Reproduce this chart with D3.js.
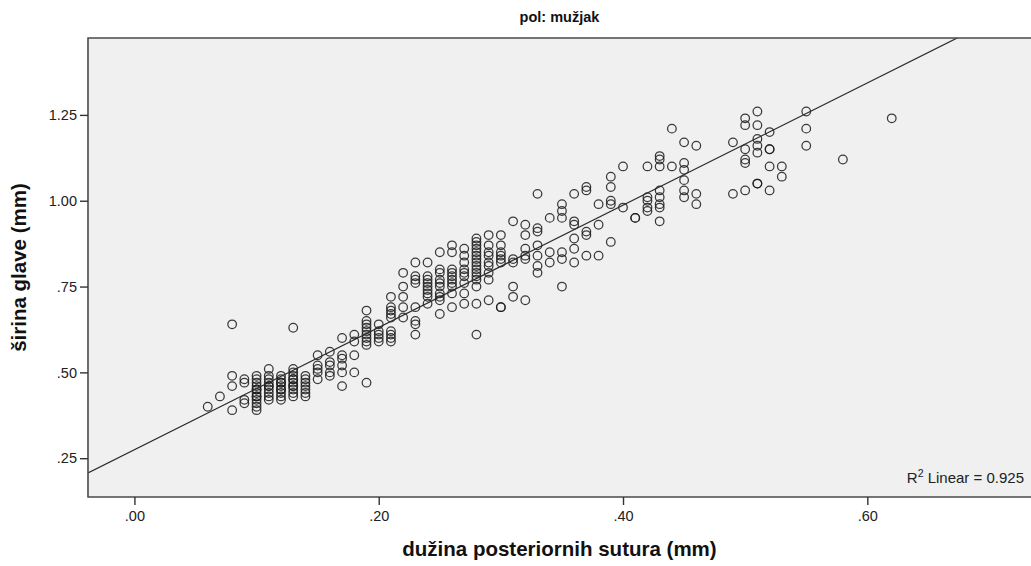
<!DOCTYPE html>
<html>
<head>
<meta charset="utf-8">
<script src="https://cdn.jsdelivr.net/npm/d3@7"></script>
<style>
  html, body { margin: 0; padding: 0; background: #ffffff; }
  svg { display: block; font-family: Arial, "Liberation Sans", sans-serif; }
</style>
</head>
<body>
<svg id="chart" width="1031" height="566"></svg>
<script>
// ---- data ----
const title = "pol: mužjak";
const xLabel = "dužina posteriornih sutura (mm)";
const yLabel = "širina glave (mm)";
const fitLabel = "Linear = 0.925";

const xTicks = [0.0, 0.2, 0.4, 0.6];
const yTicks = [0.25, 0.50, 0.75, 1.00, 1.25];

// x value of each column of points
const colX = [0.06, 0.07, 0.08, 0.09, 0.10, 0.11, 0.12, 0.13, 0.14, 0.15,
              0.16, 0.17, 0.18, 0.19, 0.20, 0.21, 0.22, 0.23, 0.24, 0.25,
              0.26, 0.27, 0.28, 0.29, 0.30, 0.31, 0.32, 0.33, 0.34, 0.35,
              0.36, 0.37, 0.38, 0.39, 0.40, 0.41, 0.42, 0.43, 0.44, 0.45,
              0.46, 0.49, 0.50, 0.51, 0.52, 0.53, 0.55, 0.58, 0.62];
// y values (širina glave) observed at each column
const colY = [
  [0.40],
  [0.43],
  [0.64, 0.49, 0.46, 0.39],
  [0.48, 0.47, 0.42, 0.41],
  [0.49, 0.48, 0.47, 0.46, 0.45, 0.44, 0.43, 0.42, 0.41, 0.40, 0.39, 0.45, 0.43],
  [0.51, 0.49, 0.48, 0.47, 0.46, 0.45, 0.44, 0.43, 0.42, 0.46],
  [0.49, 0.48, 0.47, 0.46, 0.45, 0.44, 0.43, 0.42, 0.47, 0.45],
  [0.63, 0.51, 0.50, 0.49, 0.48, 0.47, 0.46, 0.45, 0.44, 0.43, 0.48, 0.46],
  [0.49, 0.48, 0.47, 0.46, 0.45, 0.44, 0.43],
  [0.55, 0.52, 0.51, 0.50, 0.48],
  [0.56, 0.53, 0.52, 0.50, 0.49],
  [0.60, 0.55, 0.54, 0.52, 0.50, 0.46],
  [0.61, 0.59, 0.55, 0.50],
  [0.68, 0.65, 0.64, 0.63, 0.62, 0.61, 0.60, 0.59, 0.58, 0.47],
  [0.64, 0.62, 0.61, 0.60, 0.59],
  [0.72, 0.69, 0.68, 0.67, 0.66, 0.62, 0.61, 0.60, 0.59],
  [0.79, 0.75, 0.72, 0.69, 0.66],
  [0.82, 0.78, 0.77, 0.76, 0.69, 0.65, 0.64, 0.61],
  [0.82, 0.78, 0.77, 0.76, 0.75, 0.74, 0.73, 0.72, 0.70],
  [0.85, 0.80, 0.79, 0.77, 0.76, 0.75, 0.73, 0.72, 0.71, 0.67],
  [0.87, 0.85, 0.80, 0.79, 0.78, 0.77, 0.76, 0.75, 0.73, 0.69],
  [0.86, 0.84, 0.82, 0.80, 0.79, 0.78, 0.76, 0.73, 0.70],
  [0.89, 0.88, 0.87, 0.86, 0.85, 0.84, 0.83, 0.82, 0.81, 0.80, 0.79, 0.78, 0.77, 0.75, 0.70, 0.61],
  [0.90, 0.87, 0.85, 0.84, 0.82, 0.81, 0.79, 0.77, 0.71],
  [0.90, 0.87, 0.85, 0.84, 0.83, 0.82, 0.69, 0.69],
  [0.94, 0.83, 0.82, 0.75, 0.72],
  [0.93, 0.90, 0.86, 0.84, 0.83, 0.71],
  [1.02, 0.92, 0.91, 0.87, 0.84, 0.81, 0.79],
  [0.95, 0.85, 0.82],
  [0.99, 0.97, 0.95, 0.85, 0.83, 0.75],
  [1.02, 0.94, 0.93, 0.89, 0.86, 0.82],
  [1.04, 1.03, 0.91, 0.90, 0.84],
  [0.99, 0.93, 0.84],
  [1.07, 1.04, 1.00, 0.99, 0.88],
  [1.10, 0.98],
  [0.95, 0.95],
  [1.10, 1.01, 1.00, 0.98, 0.97],
  [1.13, 1.12, 1.10, 1.03, 1.01, 0.99, 0.98, 0.94],
  [1.21, 1.10],
  [1.17, 1.11, 1.09, 1.06, 1.03, 1.01],
  [1.16, 1.02, 0.99],
  [1.17, 1.02],
  [1.24, 1.22, 1.15, 1.12, 1.11, 1.03],
  [1.26, 1.22, 1.18, 1.16, 1.14, 1.05, 1.05],
  [1.20, 1.15, 1.15, 1.10, 1.03],
  [1.10, 1.07],
  [1.26, 1.21, 1.16],
  [1.12],
  [1.24]
];

// fitted line
const fitIntercept = 0.275;
const fitSlope = 1.78;

// ---- layout ----
const W = 1031, H = 566;
const plot = { left: 88, top: 38, right: 1031, bottom: 497 };

const svg = d3.select("#chart");

const x = d3.scaleLinear().domain([-0.038, 0.734]).range([plot.left, plot.right]);
const y = d3.scaleLinear().domain([0.137, 1.474]).range([plot.bottom, plot.top]);

const points = [];
colX.forEach((xv, i) => colY[i].forEach(yv => points.push({ x: xv, y: yv })));

// background
svg.append("rect")
  .attr("x", plot.left).attr("y", plot.top)
  .attr("width", plot.right - plot.left).attr("height", plot.bottom - plot.top)
  .attr("fill", "#f0f0f0");

svg.append("defs").append("clipPath").attr("id", "clip")
  .append("rect")
  .attr("x", plot.left).attr("y", plot.top)
  .attr("width", plot.right - plot.left).attr("height", plot.bottom - plot.top);

// points
svg.append("g").attr("clip-path", "url(#clip)")
  .selectAll("circle").data(points).enter().append("circle")
  .attr("cx", d => x(d.x)).attr("cy", d => y(d.y))
  .attr("r", 4.3)
  .attr("fill", "none")
  .attr("stroke", "#1a1a1a")
  .attr("stroke-opacity", 0.85)
  .attr("stroke-width", 1.25);

// fit line
const x0 = x.domain()[0], x1 = x.domain()[1];
svg.append("line").attr("clip-path", "url(#clip)")
  .attr("x1", x(x0)).attr("y1", y(fitIntercept + fitSlope * x0))
  .attr("x2", x(x1)).attr("y2", y(fitIntercept + fitSlope * x1))
  .attr("stroke", "#2a2a2a").attr("stroke-width", 1.2);

// frame (left, top, bottom)
svg.append("path")
  .attr("d", `M${plot.right},${plot.top}H${plot.left}V${plot.bottom}H${plot.right}`)
  .attr("fill", "none").attr("stroke", "#4a4a4a").attr("stroke-width", 1.6);

// axes
const fmt2 = v => d3.format(".2f")(v).replace(/^0\./, ".");

const xAxis = svg.append("g").attr("transform", `translate(0,${plot.bottom})`)
  .call(d3.axisBottom(x).tickValues(xTicks).tickSize(8).tickPadding(6).tickFormat(fmt2));
const yAxis = svg.append("g").attr("transform", `translate(${plot.left},0)`)
  .call(d3.axisLeft(y).tickValues(yTicks).tickSize(8).tickPadding(3).tickFormat(fmt2));

[xAxis, yAxis].forEach(g => {
  g.select(".domain").remove();
  g.selectAll(".tick line").attr("stroke", "#333").attr("stroke-width", 1.4);
  g.selectAll(".tick text").attr("fill", "#222").attr("font-size", 14.5)
    .attr("font-family", "Arial, 'Liberation Sans', sans-serif");
});

// title
svg.append("text")
  .attr("x", (plot.left + plot.right) / 2).attr("y", 22)
  .attr("text-anchor", "middle")
  .attr("font-size", 14.5).attr("font-weight", "bold").attr("fill", "#111")
  .text(title);

// x label
svg.append("text")
  .attr("x", (plot.left + plot.right) / 2).attr("y", 556)
  .attr("text-anchor", "middle")
  .attr("font-size", 20.5).attr("font-weight", "bold").attr("fill", "#111")
  .text(xLabel);

// y label
svg.append("text")
  .attr("transform", `translate(26,${(plot.top + plot.bottom) / 2}) rotate(-90)`)
  .attr("text-anchor", "middle")
  .attr("font-size", 20.5).attr("font-weight", "bold").attr("fill", "#111")
  .text(yLabel);

// R² annotation
const r2 = svg.append("text")
  .attr("x", 1024).attr("y", 483)
  .attr("text-anchor", "end")
  .attr("font-size", 15).attr("fill", "#222");
r2.append("tspan").text("R");
r2.append("tspan").attr("dy", -6).attr("font-size", 10.5).text("2");
r2.append("tspan").attr("dy", 6).text(" " + fitLabel);
</script>
</body>
</html>
